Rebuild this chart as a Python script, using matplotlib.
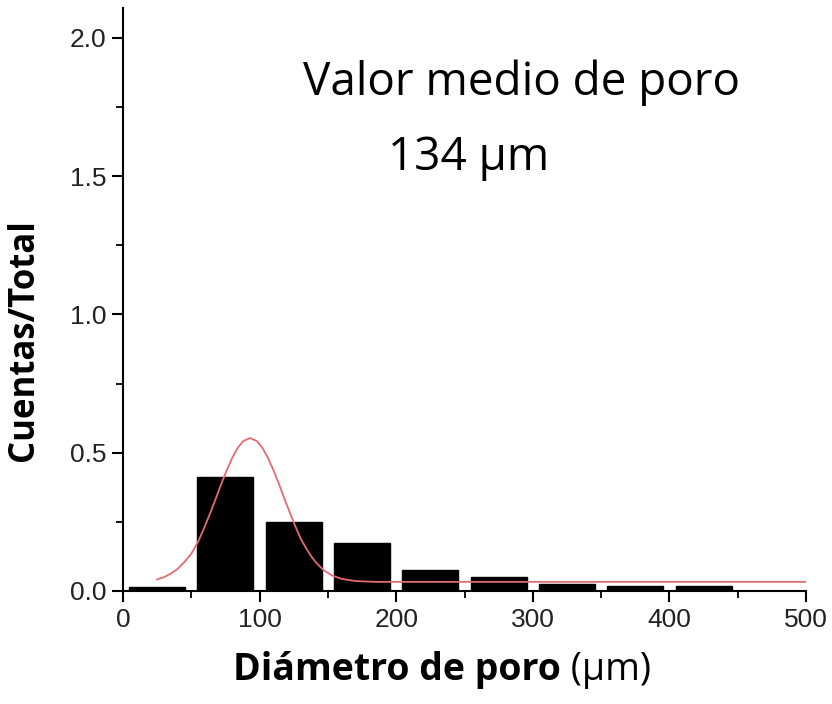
import matplotlib
matplotlib.use('Agg')
import matplotlib.pyplot as plt
from matplotlib.ticker import MultipleLocator

# histogram bins (pore diameter, um) and normalised counts
bin_centers = [25, 75, 125, 175, 225, 275, 325, 375, 425]
bin_heights = [0.016, 0.413, 0.248, 0.172, 0.076, 0.051, 0.025, 0.018, 0.018]

# fitted curve, points
fit_x = [25, 30, 35, 40, 45, 50, 55, 60, 64, 68, 72, 76, 80, 84, 88, 93,
         98, 102, 106, 110, 114, 118, 122, 126, 130, 134, 138, 142, 147,
         153, 160, 170, 185, 500]
fit_y = [0.042, 0.05, 0.063, 0.08, 0.105, 0.135, 0.178, 0.235, 0.284,
         0.335, 0.388, 0.437, 0.482, 0.518, 0.542, 0.553, 0.542, 0.518,
         0.483, 0.438, 0.389, 0.336, 0.285, 0.236, 0.19, 0.155, 0.124,
         0.099, 0.075, 0.056, 0.044, 0.036, 0.033, 0.033]

x_ticks = [0, 100, 200, 300, 400, 500]
y_ticks = [0.0, 0.5, 1.0, 1.5, 2.0]

fig = plt.figure(figsize=(8.32, 7.04), dpi=100)
ax = fig.add_axes([123 / 832, 113 / 704, 683 / 832, 583 / 704])

ax.bar(bin_centers, bin_heights, width=41, color='black', edgecolor='black')
ax.plot(fit_x, fit_y, color='#e46a74', lw=1.3)

ax.set_xlim(0, 500)
ax.set_ylim(0, 2.108)
ax.set_xticks(x_ticks)
ax.set_yticks(y_ticks)
ax.set_yticklabels([f'{v:.1f}' for v in y_ticks])
ax.xaxis.set_minor_locator(MultipleLocator(50))
ax.yaxis.set_minor_locator(MultipleLocator(0.25))

for s in ['top', 'right']:
    ax.spines[s].set_visible(False)
for s in ['left', 'bottom']:
    ax.spines[s].set_linewidth(1.5)

ax.tick_params(which='major', direction='out', length=8, width=1.5,
               labelsize=19, colors='black', labelcolor='#222222', pad=4)
ax.tick_params(which='minor', direction='out', length=5, width=1.3)
for lbl in ax.get_xticklabels() + ax.get_yticklabels():
    lbl.set_family('Liberation Sans')

ax.text(132, 1.794, 'Valor medio de poro', fontsize=33, family='Open Sans',
        va='baseline', ha='left')
ax.text(194, 1.523, '134 µm', fontsize=33, family='Open Sans',
        va='baseline', ha='left')

fig.text(24 / 832, 1 - 340 / 704, 'Cuentas/Total', rotation=90, fontsize=25,
         fontweight='bold', family='Open Sans', ha='center', va='center')

t1 = fig.text(233 / 832, 1 - 680 / 704, 'Diámetro de poro', fontsize=27,
              fontweight='bold', family='Open Sans', ha='left', va='baseline')
ax.annotate(' (µm)', xy=(1, 0), xycoords=t1, fontsize=27, family='Open Sans',
            ha='left', va='bottom', annotation_clip=False)

fig.savefig('out.png', dpi=100)
